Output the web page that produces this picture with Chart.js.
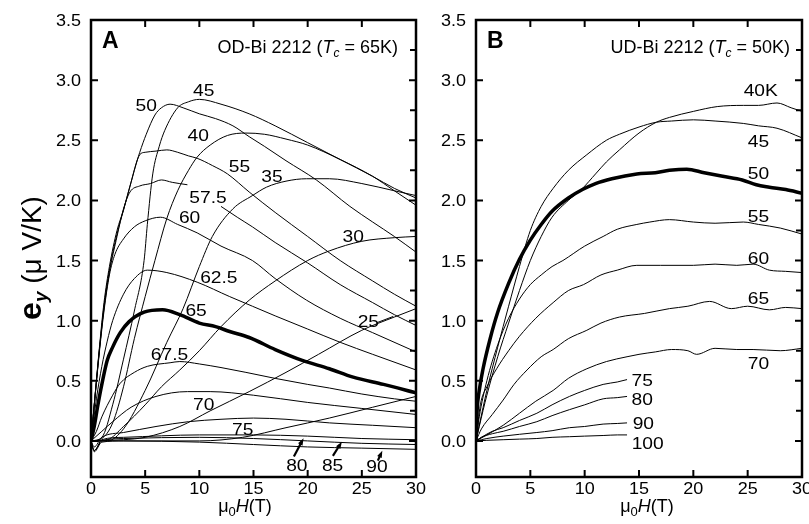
<!DOCTYPE html>
<html>
<head>
<meta charset="utf-8">
<script src="https://cdn.jsdelivr.net/npm/chart.js@4.4.0/dist/chart.umd.min.js"></script>
<style>
  html, body { margin: 0; padding: 0; background: #fff; }
  #wrap { position: relative; width: 809px; height: 524px; overflow: hidden; }
  canvas { position: absolute; top: 0; }
  #chartA { left: 0; }
  #chartB { left: 425px; }
</style>
</head>
<body>
<div id="wrap">
  <canvas id="chartA" width="440" height="524"></canvas>
  <canvas id="chartB" width="384" height="524"></canvas>
</div>
<script>
// axis ticks
const xTicks = [0, 5, 10, 15, 20, 25, 30];
const yTicks = [0, 0.5, 1, 1.5, 2, 2.5, 3, 3.5];
const yMinor = [0.25, 0.75, 1.25, 1.75, 2.25, 2.75, 3.25];

// panel A: OD-Bi 2212, e_y vs field [H (T), e_y (uV/K)]
const a20 = [[0,0],[6,0],[10,0],[14,0.03],[18,0.11],[22,0.19],[26,0.28],[30,0.37]];
const a25 = [[0,0],[3,0.01],[5,0.03],[8.2,0.12],[11,0.25],[14.6,0.41],[18,0.57],[21,0.72],[25,0.92],[28,1.03],[30,1.1]];
const a30 = [[0,0],[1.5,0.01],[3,0.12],[5,0.3],[6.5,0.45],[8.2,0.59],[10,0.75],[12,0.95],[14.6,1.17],[17,1.33],[20,1.5],[22,1.58],[25,1.66],[28,1.69],[30,1.7]];
const a35 = [[0,0],[1.5,0],[3,0.1],[5,0.42],[7,0.82],[8.5,1.1],[10,1.45],[11.2,1.7],[13.1,1.93],[14.9,2.04],[16.2,2.11],[18,2.16],[19.9,2.18],[22,2.18],[25,2.14],[28,2.08],[30,2.04]];
const a40 = [[0,0],[1,0.02],[2,0.15],[3,0.45],[4,0.85],[5,1.2],[5.9,1.5],[7,1.85],[8,2.08],[9,2.25],[9.8,2.36],[11,2.46],[12.6,2.54],[14.3,2.56],[16,2.55],[18,2.51],[20,2.46],[23,2.34],[26,2.2],[28,2.08],[30,1.96]];
const a45 = [[0,0],[1,0.03],[2,0.3],[3,0.68],[4,1.08],[4.9,1.5],[5.2,1.8],[5.7,2.22],[6.3,2.45],[6.8,2.58],[8,2.77],[9,2.82],[10,2.84],[12,2.8],[14.6,2.72],[17,2.62],[20,2.48],[23,2.34],[26,2.2],[28,2.1],[30,2.02]];
const a50 = [[0,0],[0.2,0.2],[0.8,0.8],[1.2,1.15],[1.7,1.45],[2.4,1.75],[3,1.92],[3.4,2.05],[4,2.25],[4.5,2.4],[5.1,2.55],[5.9,2.71],[6.5,2.77],[7.3,2.8],[8.5,2.77],[10,2.72],[11.5,2.68],[13.1,2.62],[14.6,2.53],[16,2.45],[18,2.33],[20.8,2.17],[23.9,1.95],[26,1.82],[28,1.7],[30,1.57]];
const a55 = [[0,0],[0.2,0.2],[0.8,0.78],[1.2,1.12],[1.7,1.42],[2.4,1.72],[3,1.92],[3.6,2.12],[4.5,2.38],[5,2.4],[6,2.41],[7,2.42],[8,2.4],[9,2.37],[9.8,2.35],[11.2,2.29],[12.6,2.22],[14.6,2.07],[17,1.9],[20,1.7],[23,1.5],[26,1.33],[28,1.22],[30,1.12]];
const a575 = [[0,0],[0.2,0.2],[0.8,0.78],[1.2,1.1],[1.7,1.4],[2.4,1.7],[3,1.93],[3.6,2.07],[4.5,2.12],[5.5,2.14],[6.5,2.17],[7.5,2.15],[8.9,2.13],[10.5,null],[12,1.95],[13.5,1.86],[14.9,1.78],[17,1.65],[20,1.48],[23,1.3],[26,1.15],[28,1.05],[30,0.96]];
const a60 = [[0,0],[0.2,0.2],[0.8,0.76],[1.2,1.08],[1.7,1.38],[2.2,1.55],[3,1.68],[4,1.78],[5,1.83],[6.4,1.86],[8,1.8],[9.8,1.73],[12,1.62],[14.9,1.5],[17,1.35],[19.9,1.17],[23,1.02],[26,0.9],[30,0.74]];
const a625 = [[0,0],[0.5,0.35],[1,0.62],[1.5,0.83],[2,1.0],[3,1.22],[4,1.35],[5.2,1.42],[7,1.4],[9.8,1.32],[12.8,1.2],[14.9,1.12],[17,1.04],[20,0.93],[23,0.82],[26,0.72],[30,0.59]];
const a65 = [[0,0],[0.3,0.12],[0.6,0.28],[1,0.47],[1.5,0.67],[2,0.78],[2.7,0.9],[3.5,0.99],[4.9,1.07],[6.6,1.09],[8.2,1.05],[10,0.98],[11.5,0.95],[12.8,0.91],[14.6,0.86],[17,0.76],[19.5,0.67],[22,0.6],[24.2,0.53],[27,0.47],[30,0.4]];
const a675 = [[0,0],[0.5,0.08],[1,0.2],[2,0.38],[2.7,0.48],[4,0.57],[5.2,0.62],[7.3,0.65],[8.2,0.66],[10,0.64],[12,0.61],[14.3,0.57],[17,0.52],[20,0.47],[22,0.44],[25,0.39],[28,0.35],[30,0.33]];
const a70 = [[0,0],[1,0.08],[2,0.16],[3.7,0.28],[6,0.37],[8.9,0.41],[11,0.41],[15,0.38],[20,0.32],[25,0.27],[30,0.22]];
const a75 = [[0,0],[0.3,-0.05],[1,0.03],[3,0.07],[6,0.12],[9,0.16],[12,0.18],[15,0.19],[18,0.18],[22,0.15],[26,0.13],[30,0.11]];
const a80 = [[0,0],[0.3,-0.08],[1,0.01],[3,0.03],[10,0.05],[15,0.05],[20,0.04],[25,0.02],[30,0.01]];
const a85 = [[0,0],[0.3,-0.08],[1,0],[3,0.02],[10,0.03],[15,0.02],[20,0],[25,-0.02],[30,-0.03]];
const a90 = [[0,0],[0.3,-0.09],[1,-0.01],[3,0],[10,-0.01],[15,-0.03],[20,-0.05],[25,-0.06],[30,-0.07]];

// panel B: UD-Bi 2212
const b40 = [[0,0],[0.3,0.12],[1,0.38],[2,0.7],[3,0.98],[4,1.25],[5,1.5],[6,1.7],[7,1.86],[8.5,2.0],[9.8,2.1],[11,2.22],[12,2.32],[13.2,2.42],[15,2.56],[16.6,2.65],[17.8,2.69],[20,2.74],[22.2,2.78],[24.6,2.79],[26,2.79],[27.7,2.81],[29,2.77],[30,2.74]];
const b45 = [[0,0],[0.3,0.13],[1,0.42],[2,0.78],[3,1.12],[4,1.45],[5,1.75],[6,1.95],[7.1,2.1],[8.5,2.25],[10.2,2.38],[12,2.5],[13.2,2.55],[15,2.61],[16.6,2.65],[18,2.66],[20,2.67],[22,2.66],[24.6,2.64],[26,2.62],[27.7,2.6],[30,2.52]];
const b50 = [[0,0],[0.1,0.25],[0.3,0.42],[0.65,0.6],[1.3,0.85],[2,1.07],[3,1.31],[4,1.51],[5,1.67],[6,1.8],[7,1.91],[8.5,2.02],[9.8,2.09],[11,2.14],[12.5,2.18],[14.8,2.22],[16.5,2.23],[17.8,2.25],[19.4,2.26],[21,2.23],[22.7,2.2],[24.5,2.17],[25.8,2.13],[27,2.11],[28.5,2.09],[30,2.06]];
const b55 = [[0,0],[0.3,0.2],[1,0.5],[2,0.8],[3,1.02],[4,1.18],[5,1.3],[6,1.38],[7,1.45],[8,1.5],[10,1.62],[11.7,1.7],[13,1.76],[14.8,1.8],[16,1.82],[17.8,1.84],[20,1.82],[22,1.81],[24.6,1.82],[26,1.8],[28,1.77],[30,1.72]];
const b60 = [[0,0],[0.4,0.3],[1,0.45],[1.9,0.6],[3,0.75],[4,0.87],[5.5,1.02],[7.1,1.15],[8.5,1.25],[9.9,1.3],[11.5,1.38],[13,1.42],[14.8,1.46],[17,1.46],[20,1.46],[22,1.47],[24,1.46],[25.5,1.47],[27,1.42],[28.5,1.41],[30,1.4]];
const b65 = [[0,0],[0.5,0.1],[1.5,0.22],[2.5,0.34],[3.5,0.47],[4.7,0.59],[6,0.7],[7.1,0.76],[8.5,0.85],[10.2,0.92],[11.5,0.98],[13.2,1.03],[15.5,1.06],[17.8,1.1],[19.5,1.12],[21.5,1.16],[23.5,1.1],[25,1.12],[27,1.09],[28.5,1.11],[30,1.1]];
const b70 = [[0,0],[1,0.05],[2.5,0.13],[4,0.23],[5.5,0.33],[7.1,0.42],[8.5,0.52],[10.2,0.6],[12,0.66],[13.9,0.7],[15,0.72],[16.5,0.74],[18,0.76],[19.5,0.75],[20.3,0.72],[22,0.77],[24,0.76],[25.5,0.76],[28,0.75],[30,0.77]];
const b75 = [[0,0],[0.5,0.03],[1.5,0.08],[2.5,0.11],[4,0.17],[5.6,0.23],[7,0.3],[8.6,0.37],[10,0.42],[11.7,0.47],[13,0.49],[13.9,0.51]];
const b80 = [[0,0],[0.5,0.03],[1.5,0.06],[2.5,0.08],[4,0.12],[5.6,0.16],[7,0.21],[8.6,0.26],[10,0.3],[11.7,0.35],[13,0.36],[13.9,0.37]];
const b90 = [[0,0],[1,0.02],[2.5,0.04],[4,0.055],[5.6,0.07],[7,0.085],[8.6,0.11],[10,0.12],[11.7,0.14],[13,0.145],[13.9,0.15]];
const b100 = [[0,0],[1,0.005],[2.5,0.01],[4,0.015],[5.6,0.02],[7,0.03],[8.6,0.035],[10,0.04],[11.7,0.045],[13,0.05],[13.9,0.05]];

const seriesA = [a20, a25, a30, a35, a40, a45, a50, a55, a575, a60, a625, a675, a70, a75, a80, a85, a90, a65];
const seriesB = [b40, b45, b55, b60, b65, b70, b75, b80, b90, b100, b50];
const boldA = a65, boldB = b50;

// curve labels: text, field, e_y (label centre)
const labelsA = [["50",5.1,2.79],["45",10.4,2.92],["40",9.9,2.54],["55",13.7,2.29],["35",16.7,2.2],["57.5",10.8,2.03],["60",9.1,1.86],["30",24.2,1.7],["62.5",11.8,1.36],["65",9.7,1.09],["25",25.6,1.0],["67.5",7.25,0.72],["70",10.4,0.31],["75",14.0,0.1],["80",19.0,-0.2],["85",22.3,-0.2],["90",26.4,-0.21]];
const labelsB = [["40K",26.2,2.92],["45",26.0,2.49],["50",26.0,2.23],["55",26.0,1.87],["60",26.0,1.52],["65",26.0,1.19],["70",26.0,0.65],["75",15.3,0.51],["80",15.3,0.35],["90",15.4,0.15],["100",15.8,-0.02]];
// pointers from label to curve: x0, y0, x1, y1
const arrowsA = [[18.73,-0.13,19.62,0.022],[22.33,-0.125,23.16,-0.006],[26.48,-0.164,26.89,-0.081]];
const leadersA = [[26.45,0.985,27.9,1.035]];

const FONT = '"Liberation Sans", Arial, Helvetica, sans-serif';

function txt(ctx, s, x, y, size, style, align, sx) {
  ctx.save();
  ctx.font = (style || '') + ' ' + size + 'px ' + FONT;
  ctx.textBaseline = 'alphabetic';
  ctx.textAlign = 'left';
  sx = sx || 1;
  const w = ctx.measureText(s).width * sx;
  let x0 = x;
  if (align === 'center') x0 = x - w / 2;
  else if (align === 'right') x0 = x - w;
  ctx.translate(x0, y);
  ctx.scale(sx, 1);
  ctx.fillText(s, 0, 0);
  ctx.restore();
  return w;
}

// draws a list of text parts [text, size, style, dy] starting at x (or ending there)
function rich(ctx, parts, x, y, align) {
  let total = 0;
  parts.forEach(p => { ctx.font = (p[2] || '') + ' ' + p[1] + 'px ' + FONT; total += ctx.measureText(p[0]).width; });
  let cx = align === 'right' ? x - total : align === 'center' ? x - total / 2 : x;
  parts.forEach(p => { cx += txt(ctx, p[0], cx, y + (p[3] || 0), p[1], p[2]); });
}

function makeDeco(cfg) {
  return {
    id: 'deco' + cfg.letter,
    afterDraw(chart) {
      const ctx = chart.ctx, a = chart.chartArea;
      const X = v => chart.scales.x.getPixelForValue(v);
      const Y = v => chart.scales.y.getPixelForValue(v);
      ctx.save();
      ctx.strokeStyle = '#000';
      ctx.fillStyle = '#000';

      // inward tick marks
      ctx.lineWidth = 2;
      ctx.beginPath();
      xTicks.forEach(v => {
        const px = X(v);
        ctx.moveTo(px, a.bottom); ctx.lineTo(px, a.bottom - 7);
        ctx.moveTo(px, a.top); ctx.lineTo(px, a.top + 7);
      });
      yTicks.forEach(v => {
        const py = Y(v);
        ctx.moveTo(a.left, py); ctx.lineTo(a.left + 7, py);
        ctx.moveTo(a.right, py); ctx.lineTo(a.right - 7, py);
      });
      yMinor.forEach(v => {
        const py = Y(v);
        ctx.moveTo(a.right, py); ctx.lineTo(a.right - 6, py);
      });
      ctx.stroke();
      ctx.lineWidth = 2.5;
      ctx.strokeRect(a.left, a.top, a.right - a.left, a.bottom - a.top);

      // tick labels
      yTicks.forEach(v => txt(ctx, v.toFixed(1), a.left - 10, Y(v) + 6, 17, '', 'right', 1.06));
      xTicks.forEach(v => txt(ctx, String(v), X(v), a.bottom + 17, 17, '', 'center', 1.06));

      // axis titles
      rich(ctx, [['\u03bc', 18], ['0', 13, '', 4], ['H', 18, 'italic'], ['(T)', 18]], cfg.xTitleX, 512, 'center');
      if (cfg.yTitle) {
        ctx.save();
        ctx.translate(41, 258);
        ctx.rotate(-Math.PI / 2);
        rich(ctx, [['e', 32, 'bold'], ['y', 19, 'bold italic', 6], [' (\u03bc V/K)', 28]], 0, 0, 'center');
        ctx.restore();
      }

      // panel letter and sample title
      txt(ctx, cfg.letter, a.left + 11, 48, 23, 'bold');
      rich(ctx, [[cfg.sample + ' (', 18], ['T', 18, 'italic'], ['c', 12, 'italic', 4], [' = ' + cfg.tc + ')', 18]], cfg.titleRight, 53, 'right');

      // curve labels
      cfg.labels.forEach(l => txt(ctx, l[0], X(l[1]), Y(l[2]) + 6, 16, '', 'center', 1.2));

      // leader lines
      ctx.lineWidth = 1;
      ctx.beginPath();
      cfg.leaders.forEach(s => { ctx.moveTo(X(s[0]), Y(s[1])); ctx.lineTo(X(s[2]), Y(s[3])); });
      ctx.stroke();

      // small pointers
      cfg.arrows.forEach(s => {
        const x0 = X(s[0]), y0 = Y(s[1]), x1 = X(s[2]), y1 = Y(s[3]);
        const ang = Math.atan2(y1 - y0, x1 - x0);
        ctx.lineWidth = 2.2;
        ctx.beginPath(); ctx.moveTo(x0, y0); ctx.lineTo(x1 - 4 * Math.cos(ang), y1 - 4 * Math.sin(ang)); ctx.stroke();
        ctx.beginPath();
        ctx.moveTo(x1, y1);
        ctx.lineTo(x1 - 7 * Math.cos(ang) + 2.5 * Math.sin(ang), y1 - 7 * Math.sin(ang) - 2.5 * Math.cos(ang));
        ctx.lineTo(x1 - 7 * Math.cos(ang) - 2.5 * Math.sin(ang), y1 - 7 * Math.sin(ang) + 2.5 * Math.cos(ang));
        ctx.closePath(); ctx.fill();
      });
      ctx.restore();
    }
  };
}

function toDataset(arr, bold) {
  return {
    data: arr.map(p => ({ x: p[0], y: p[1] })),
    borderColor: '#000',
    borderWidth: bold ? 3.5 : 1,
    pointRadius: 0,
    fill: false,
    cubicInterpolationMode: 'monotone',
    spanGaps: false
  };
}

function options(yWidth, rightPad) {
  return {
    responsive: false,
    animation: false,
    events: [],
    layout: { padding: { left: 0, right: rightPad, top: 20, bottom: 0 } },
    plugins: { legend: { display: false }, tooltip: { enabled: false } },
    scales: {
      x: {
        type: 'linear', min: 0, max: 30,
        ticks: { display: false },
        grid: { display: false }, border: { display: false },
        afterBuildTicks: s => { s.ticks = xTicks.map(v => ({ value: v })); },
        afterFit: s => { s.height = 47; s.paddingLeft = 0; s.paddingRight = 0; }
      },
      y: {
        type: 'linear', min: -0.3, max: 3.5,
        ticks: { display: false },
        grid: { display: false }, border: { display: false },
        afterBuildTicks: s => { s.ticks = yTicks.map(v => ({ value: v })); },
        afterFit: s => { s.width = yWidth; s.paddingTop = 0; s.paddingBottom = 0; }
      }
    }
  };
}

new Chart(document.getElementById('chartA'), {
  type: 'line',
  data: { datasets: seriesA.map(s => toDataset(s, s === boldA)) },
  options: options(91, 24),
  plugins: [makeDeco({ letter: 'A', sample: 'OD-Bi 2212', tc: '65K', titleRight: 398, xTitleX: 245,
    yTitle: true, labels: labelsA, arrows: arrowsA, leaders: leadersA })]
});

new Chart(document.getElementById('chartB'), {
  type: 'line',
  data: { datasets: seriesB.map(s => toDataset(s, s === boldB)) },
  options: options(51, 7),
  plugins: [makeDeco({ letter: 'B', sample: 'UD-Bi 2212', tc: '50K', titleRight: 365, xTitleX: 222,
    yTitle: false, labels: labelsB, arrows: [], leaders: [] })]
});
</script>
</body>
</html>
